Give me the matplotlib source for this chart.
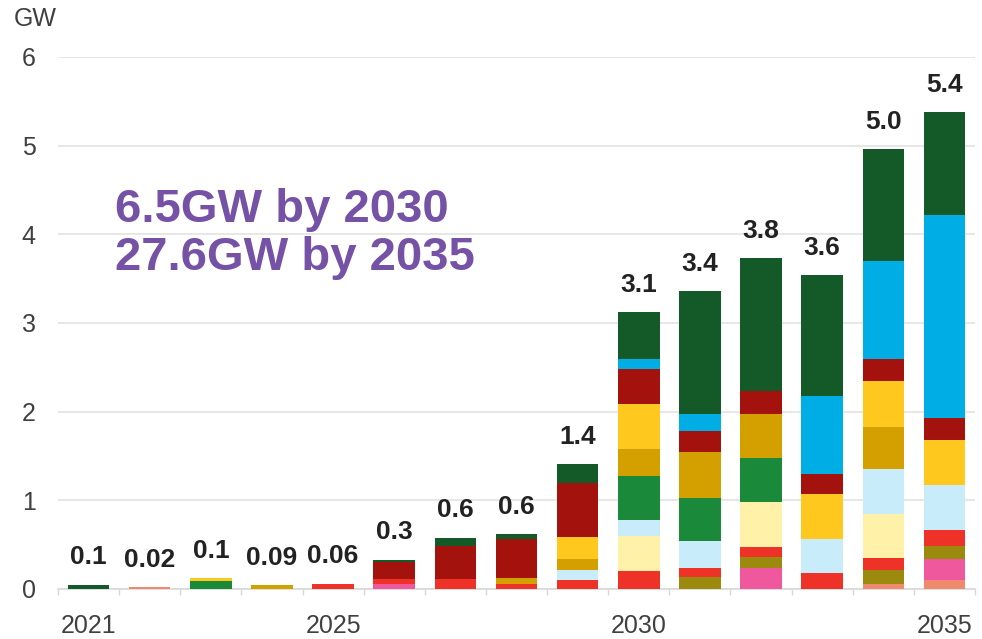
import matplotlib
matplotlib.use("Agg")
import matplotlib.pyplot as plt
import numpy as np

plt.rcParams['font.family'] = ['Liberation Sans', 'DejaVu Sans']

years = list(range(2021, 2036))
totals_labels = ["0.1", "0.02", "0.1", "0.09", "0.06", "0.3", "0.6", "0.6", "1.4",
                 "3.1", "3.4", "3.8", "3.6", "5.0", "5.4"]

# stacking order bottom -> top
salmon      = [0, 0.02, 0, 0, 0, 0, 0, 0, 0, 0, 0, 0, 0, 0.06, 0.10]
pink        = [0, 0, 0, 0, 0, 0.06, 0, 0, 0, 0, 0, 0.24, 0, 0, 0.24]
olive       = [0, 0, 0, 0, 0, 0, 0, 0, 0, 0, 0.13, 0.12, 0, 0.15, 0.14]
red         = [0, 0, 0, 0, 0.06, 0.05, 0.11, 0.06, 0.10, 0.20, 0.11, 0.11, 0.18, 0.14, 0.19]
light_yel   = [0, 0, 0, 0, 0, 0, 0, 0, 0, 0.40, 0, 0.51, 0, 0.50, 0]
light_blue  = [0, 0, 0, 0, 0, 0, 0, 0, 0.11, 0.18, 0.30, 0, 0.38, 0.50, 0.50]
green       = [0, 0, 0.09, 0, 0, 0, 0, 0, 0, 0.50, 0.49, 0.50, 0, 0, 0]
dark_gold   = [0, 0, 0, 0.04, 0, 0, 0, 0.06, 0.13, 0.30, 0.51, 0.49, 0, 0.48, 0]
gold        = [0, 0, 0.03, 0, 0, 0, 0, 0, 0.25, 0.51, 0, 0, 0.51, 0.52, 0.51]
dark_red    = [0, 0, 0, 0, 0, 0.19, 0.38, 0.44, 0.61, 0.39, 0.24, 0.26, 0.23, 0.24, 0.25]
sky_blue    = [0, 0, 0, 0, 0, 0, 0, 0, 0, 0.11, 0.19, 0, 0.88, 1.11, 2.29]
dark_green  = [0.05, 0, 0, 0, 0, 0.03, 0.09, 0.06, 0.21, 0.53, 1.39, 1.50, 1.36, 1.26, 1.16]

series = [
    (salmon, "#f08a6e"),
    (pink, "#f0589e"),
    (olive, "#9c8a0e"),
    (red, "#ee3228"),
    (light_yel, "#fff1a8"),
    (light_blue, "#c8ecf9"),
    (green, "#1a8a3a"),
    (dark_gold, "#d4a000"),
    (gold, "#ffc81e"),
    (dark_red, "#a3120c"),
    (sky_blue, "#00aee6"),
    (dark_green, "#135a28"),
]

fig = plt.figure(figsize=(9.82, 6.39), dpi=100)
ax = fig.add_axes([58/982, 1-589/639, 917/982, (589-57)/639])

x = np.array(years)
bottom = np.zeros(len(years))
for vals, col in series:
    v = np.array(vals)
    ax.bar(x, v, bottom=bottom, width=0.68, color=col, linewidth=0, zorder=3)
    bottom += v

for xi, top, lab in zip(x, bottom, totals_labels):
    ax.annotate(lab, (xi, top), xytext=(0, 11), textcoords='offset points',
                ha='center', va='bottom', fontsize=19, fontweight='bold',
                color='#222222', zorder=5)

ax.set_xlim(2020.5, 2035.5)
ax.set_ylim(0, 6)
ax.set_yticks(range(0, 7))
ax.set_xticks([2021, 2025, 2030, 2035])
ax.set_xticks(np.arange(2020.5, 2036, 1), minor=True)
ax.tick_params(axis='x', which='major', length=0, pad=18, labelsize=18, labelcolor='#404040')
ax.tick_params(axis='x', which='minor', length=4, color='#d8d8d8', width=1)
ax.tick_params(axis='y', length=0, pad=16, labelsize=18, labelcolor='#404040')
ax.grid(axis='y', color='#e3e3e3', linewidth=1.2, zorder=0)
for s in ['top', 'right', 'left']:
    ax.spines[s].set_visible(False)
ax.spines['bottom'].set_color('#d8d8d8')
ax.spines['bottom'].set_linewidth(1.2)

fig.text(14/982, 1-19/639, "GW", ha='left', va='center', fontsize=18, color='#404040')

ax.text(2021.43, 4.0, "6.5GW by 2030\n27.6GW by 2035", ha='left', va='center',
        fontsize=34, fontweight='bold', color='#7552a6', linespacing=1.12, zorder=4)

fig.savefig("out.png", dpi=100)
